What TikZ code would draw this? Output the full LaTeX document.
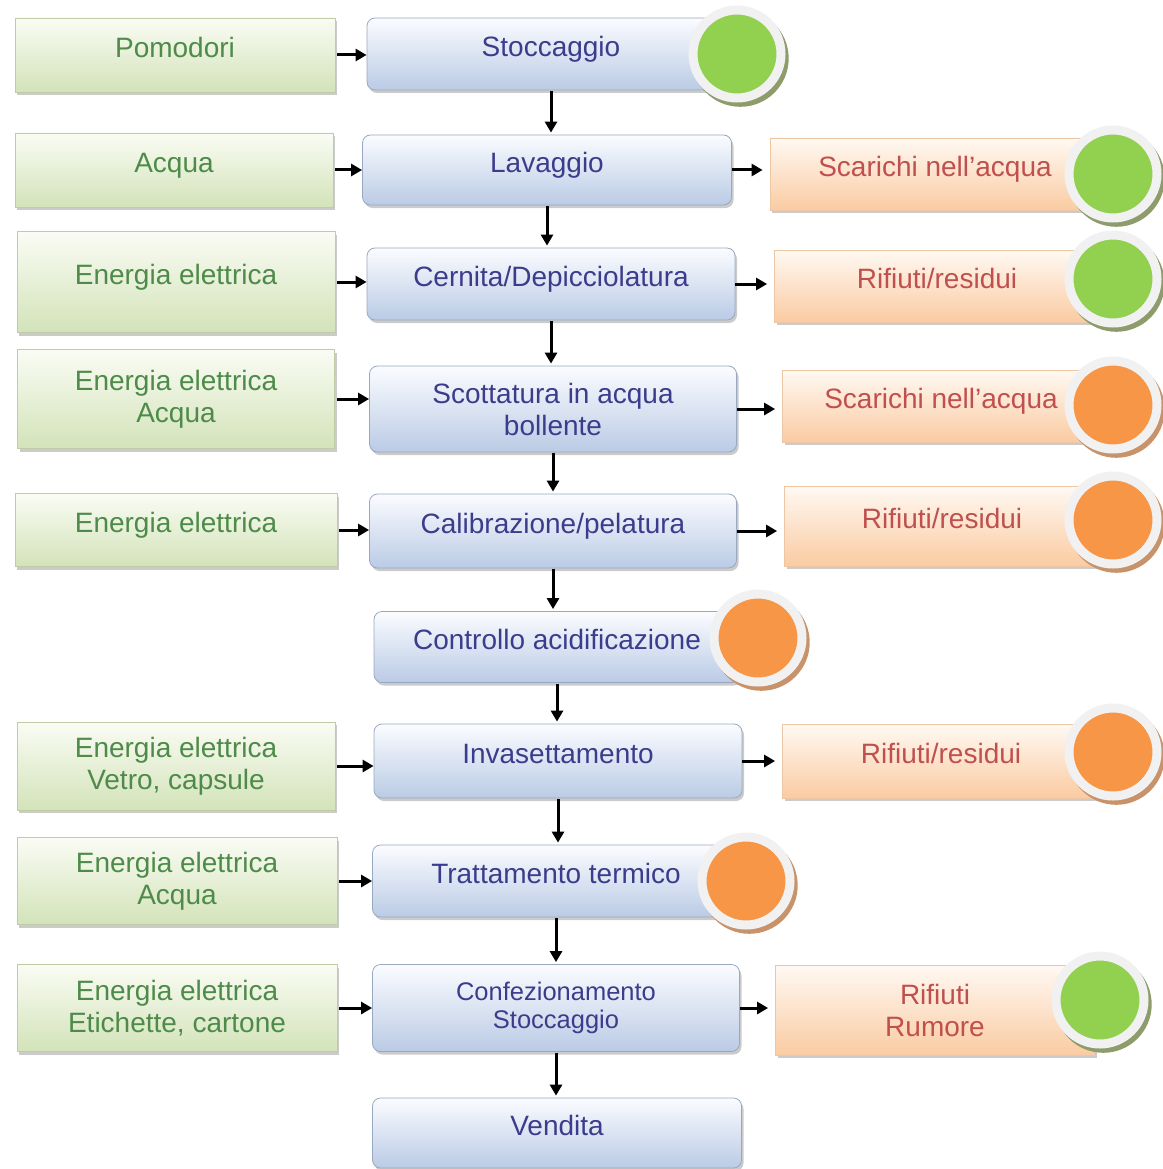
\documentclass[tikz,border=0pt]{standalone}
\usepackage{fontspec}
\setmainfont{Liberation Sans}
\usetikzlibrary{shadows,arrows.meta}

\definecolor{inTop}{HTML}{FAFCF4}
\definecolor{inBot}{HTML}{D3E3B9}
\definecolor{inLine}{HTML}{BFCCA6}
\definecolor{inText}{HTML}{4E8B4A}
\definecolor{prTop}{HTML}{FBFCFF}
\definecolor{prBot}{HTML}{BACBE5}
\definecolor{prLine}{HTML}{98A8C0}
\definecolor{prText}{HTML}{3C3C8C}
\definecolor{ouTop}{HTML}{FFF9F3}
\definecolor{ouBot}{HTML}{FACBA2}
\definecolor{ouLine}{HTML}{EDC6A6}
\definecolor{ouText}{HTML}{C0504D}
\definecolor{okGreen}{HTML}{92D050}
\definecolor{okShadow}{HTML}{8E9C6C}
\definecolor{warnOrange}{HTML}{F79646}
\definecolor{warnShadow}{HTML}{C8926A}
\definecolor{ring}{HTML}{F1F1F1}

% straight apostrophe
\newcommand{\apos}{{\char"27}}

\begin{document}
\begin{tikzpicture}[x=1pt,y=-1pt,
  boxbase/.style={inner sep=0pt, align=center,
    font=\fontsize{28}{32}\selectfont, line width=0.8pt,
    drop shadow={shadow xshift=2pt, shadow yshift=-3pt, fill=black!45, opacity=.45}},
  % single-line labels sit a little above the middle of their box
  oneline/.style={text height=20.5pt, text depth=16pt},
  inbox/.style={boxbase, draw=inLine, top color=inTop, bottom color=inBot, text=inText},
  procbox/.style={boxbase, rounded corners=8pt, draw=prLine, top color=prTop, bottom color=prBot, text=prText},
  outbox/.style={boxbase, draw=ouLine, top color=ouTop, bottom color=ouBot, text=ouText},
  badge/.style={circle, inner sep=0pt, minimum size=88pt, draw=ring, line width=9pt},
  okbadge/.style={badge, fill=okGreen,
    general shadow={fill=okShadow, shadow scale=1.1, shadow xshift=3pt, shadow yshift=-4pt}},
  warnbadge/.style={badge, fill=warnOrange,
    general shadow={fill=warnShadow, shadow scale=1.1, shadow xshift=3pt, shadow yshift=-4pt}},
  flow/.style={line width=3pt, -{Triangle[length=11pt,width=12pt]}},
]
\useasboundingbox (0,0) rectangle (1162,1169);

% inputs
\node[inbox, oneline, minimum width=320pt, minimum height=74pt]  (i1) at (175,55)   {Pomodori};
\node[inbox, oneline, minimum width=318pt, minimum height=74pt]  (i2) at (174,170)  {Acqua};
\node[inbox, oneline, minimum width=318pt, minimum height=101pt] (i3) at (176,282)  {Energia elettrica};
\node[inbox, minimum width=317pt, minimum height=99pt]  (i4) at (176,399)  {Energia elettrica\\Acqua};
\node[inbox, oneline, minimum width=322pt, minimum height=73pt]  (i5) at (176,530)  {Energia elettrica};
\node[inbox, minimum width=318pt, minimum height=88pt]  (i7) at (176,766)  {Energia elettrica\\Vetro, capsule};
\node[inbox, minimum width=320pt, minimum height=87pt]  (i8) at (177,881)  {Energia elettrica\\Acqua};
\node[inbox, minimum width=320pt, minimum height=87pt]  (i9) at (177,1008) {Energia elettrica\\Etichette, cartone};

% process steps
\node[procbox, oneline, minimum width=368pt, minimum height=72pt] (p1)  at (551,54)   {Stoccaggio};
\node[procbox, oneline, minimum width=369pt, minimum height=70pt] (p2)  at (547,170)  {Lavaggio};
\node[procbox, oneline, minimum width=368pt, minimum height=72pt] (p3)  at (551,284)  {Cernita/Depicciolatura};
\node[procbox, minimum width=367pt, minimum height=86pt] (p4)  at (553,409)  {Scottatura in acqua\\bollente};
\node[procbox, oneline, minimum width=367pt, minimum height=74pt] (p5)  at (553,531)  {Calibrazione/pelatura};
\node[procbox, oneline, minimum width=366pt, minimum height=71pt] (p6)  at (557,647)  {Controllo acidificazione};
\node[procbox, oneline, minimum width=368pt, minimum height=74pt] (p7)  at (558,761)  {Invasettamento};
\node[procbox, oneline, minimum width=367pt, minimum height=72pt] (p8)  at (556,881)  {Trattamento termico};
\node[procbox, minimum width=367pt, minimum height=87pt,
      font=\fontsize{25.5}{28.5}\selectfont]             (p9)  at (556,1008) {Confezionamento\\Stoccaggio};
\node[procbox, oneline, minimum width=369pt, minimum height=70pt] (p10) at (557,1133) {Vendita};

% outputs
\node[outbox, oneline, minimum width=330pt, minimum height=72pt] (o2) at (935,174)  {Scarichi nell\apos acqua};
\node[outbox, oneline, minimum width=325pt, minimum height=72pt] (o3) at (937,286)  {Rifiuti/residui};
\node[outbox, oneline, minimum width=317pt, minimum height=72pt] (o4) at (941,406)  {Scarichi nell\apos acqua};
\node[outbox, oneline, minimum width=315pt, minimum height=80pt] (o5) at (942,526)  {Rifiuti/residui};
\node[outbox, oneline, minimum width=317pt, minimum height=74pt] (o7) at (941,761)  {Rifiuti/residui};
\node[outbox, minimum width=319pt, minimum height=90pt] (o9) at (935,1010) {Rifiuti\\Rumore};

% inputs into the steps
\foreach \a/\b in {i1/p1, i2/p2, i3/p3, i4/p4, i5/p5, i7/p7, i8/p8, i9/p9}
  \draw[flow, shorten <=2pt] (\a) -- (\a -| \b.west);

% step sequence
\foreach \a/\b in {p1/p2, p2/p3, p3/p4, p4/p5, p5/p6, p6/p7, p7/p8, p8/p9, p9/p10}
  \draw[flow, shorten <=1pt, shorten >=2pt] (\a.south) -- (\a.south |- \b.north);

% outputs of the steps
\foreach \a/\b in {p2/o2, p3/o3, p4/o4, p5/o5, p7/o7, p9/o9}
  \draw[flow, shorten >=7pt] (\a) -- (\a -| \b.west);

% impact markers
\node[okbadge]   (b1)  at (737,54)    {};
\node[okbadge]   (b2)  at (1113,174)  {};
\node[okbadge]   (b3)  at (1113,279)  {};
\node[warnbadge] (b4)  at (1113,405)  {};
\node[warnbadge] (b5)  at (1113,520)  {};
\node[warnbadge] (b6)  at (758,638)   {};
\node[warnbadge] (b7)  at (1113,752)  {};
\node[warnbadge] (b8)  at (746,881)   {};
\node[okbadge]   (b9)  at (1100,1000) {};
\end{tikzpicture}
\end{document}
